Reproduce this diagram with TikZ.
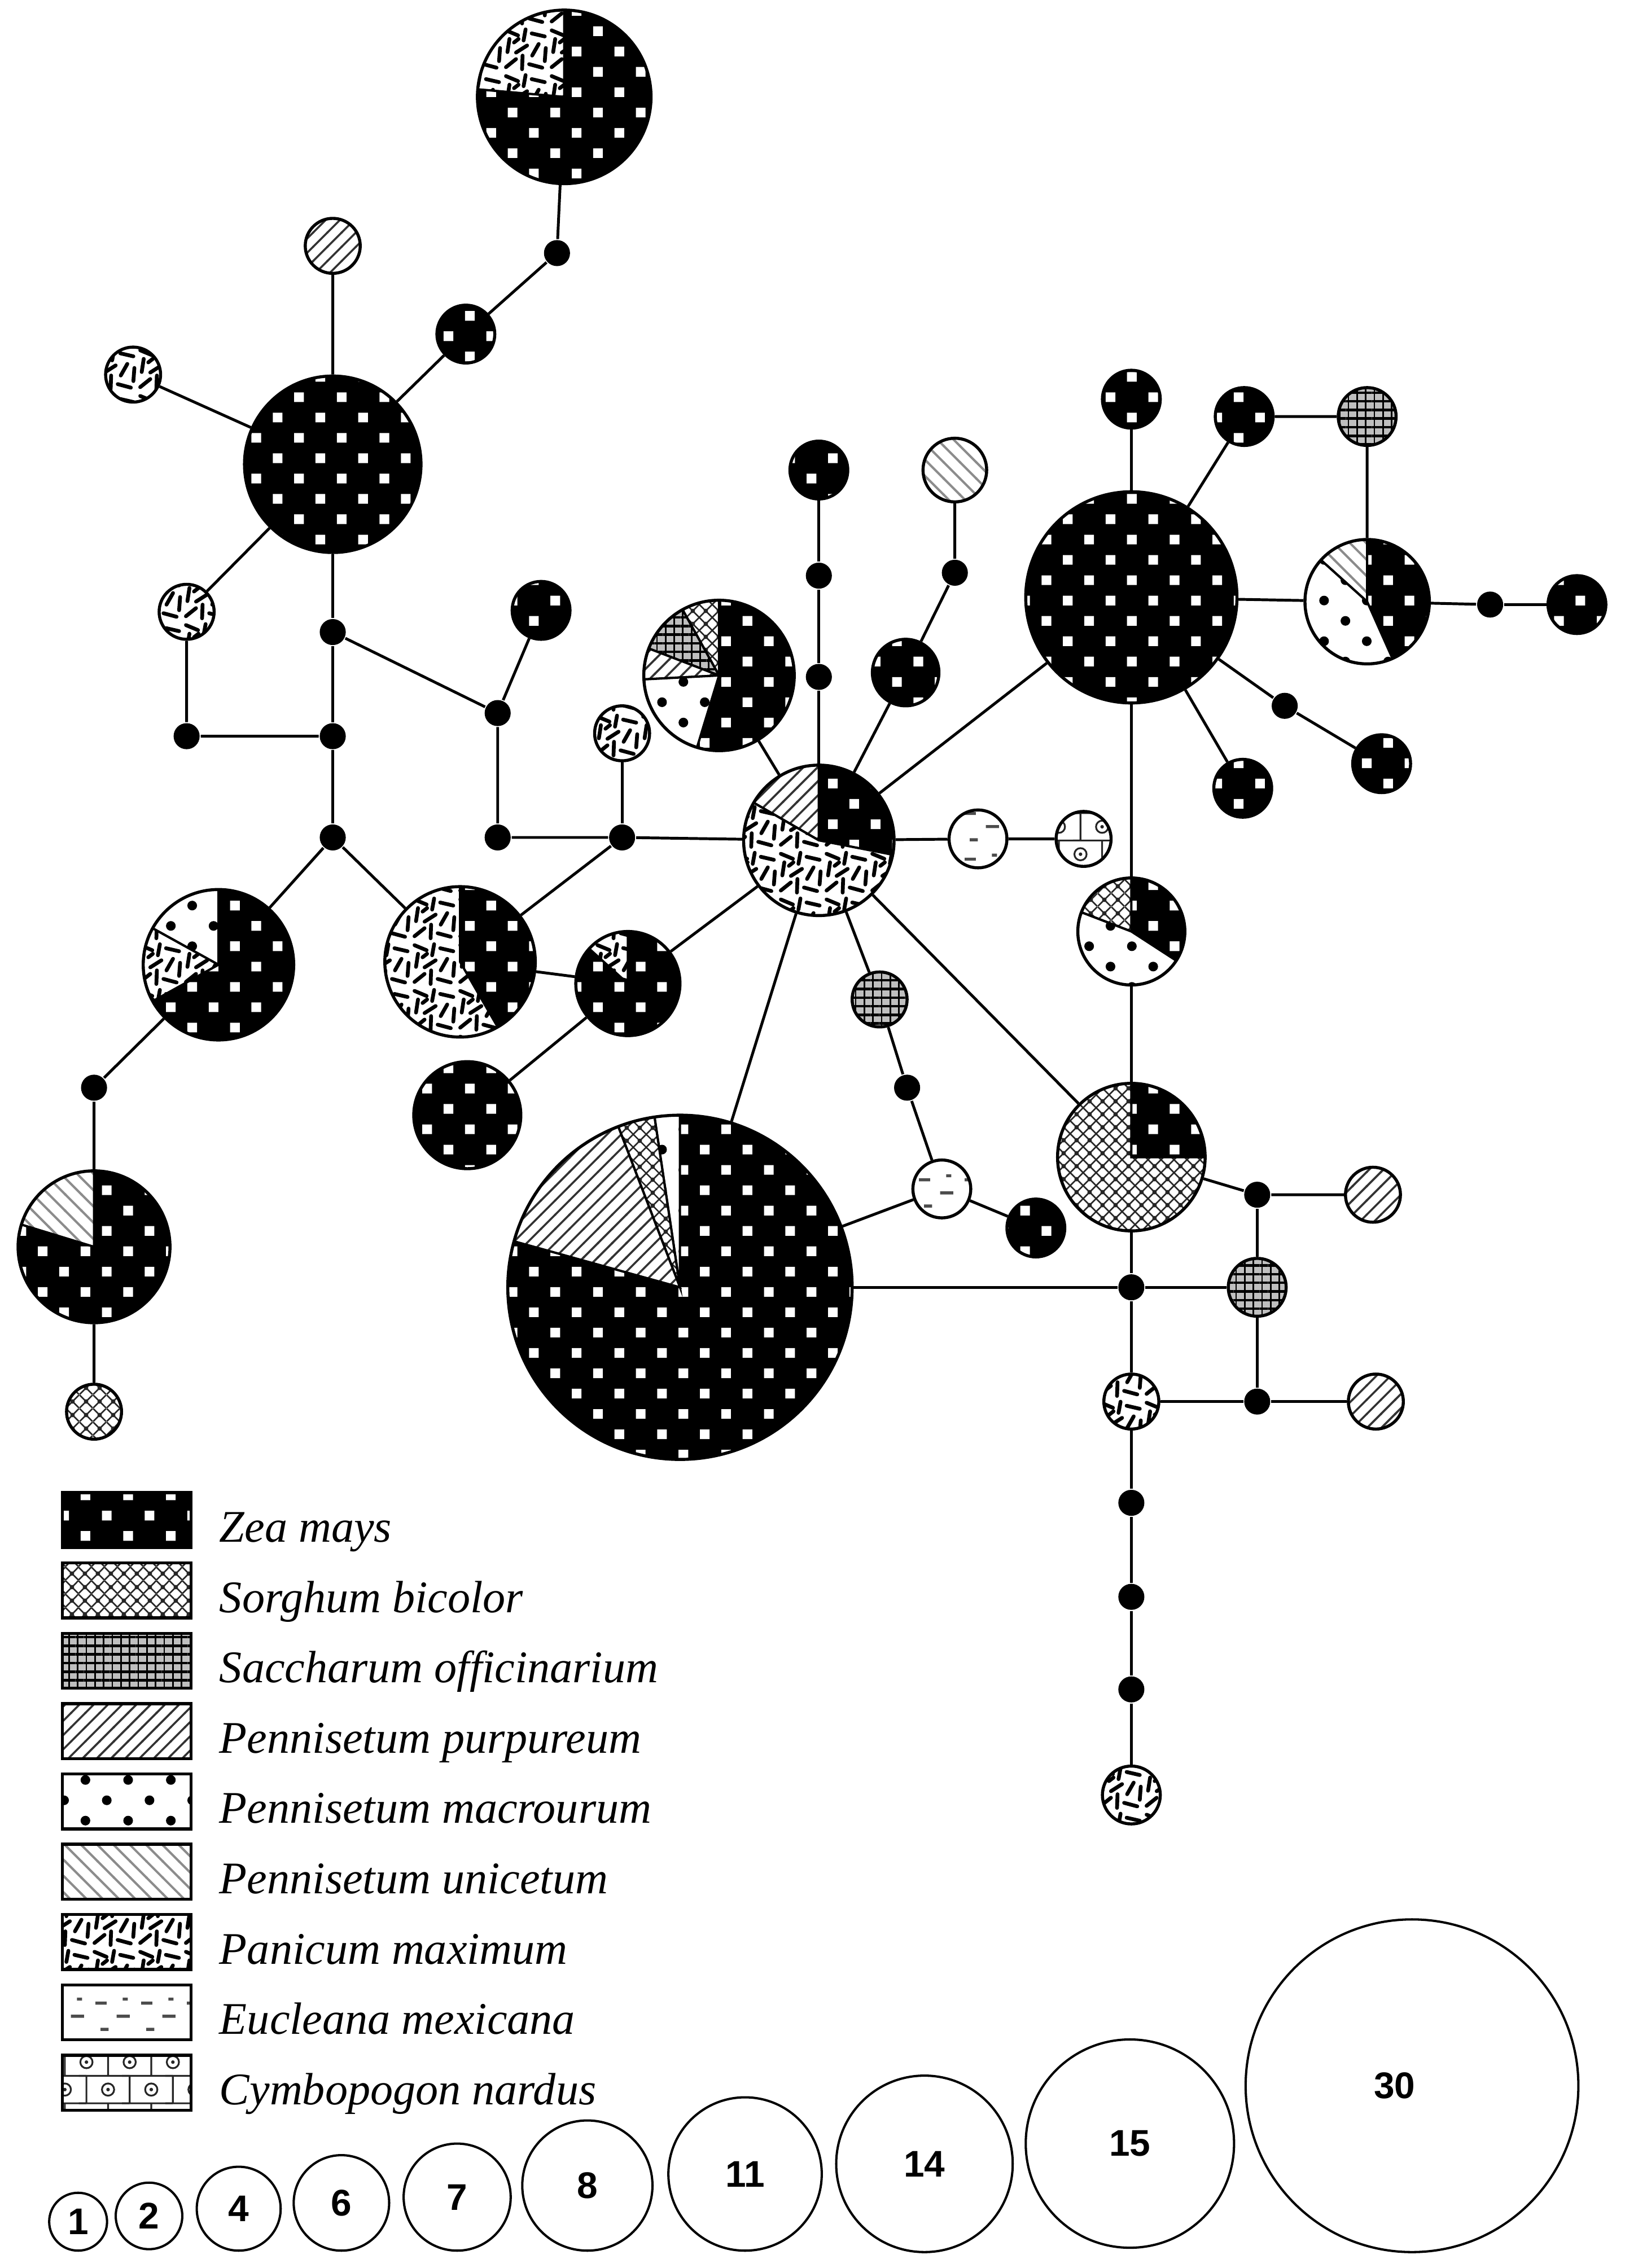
\documentclass[tikz,border=0pt]{standalone}
\usepackage{fontspec}
\setmainfont{Liberation Serif}
\newfontfamily\numfont{Liberation Sans}
\usetikzlibrary{patterns, positioning}

\pgfdeclarepatternformonly{zeadots}{\pgfqpoint{-1.2pt}{-1.2pt}}{\pgfqpoint{7.2pt}{6.8pt}}{\pgfqpoint{8.4pt}{8pt}}{%
  \pgfpathrectangle{\pgfqpoint{-0.95pt}{-0.95pt}}{\pgfqpoint{1.9pt}{1.9pt}}%
  \pgfpathrectangle{\pgfqpoint{3.25pt}{3.05pt}}{\pgfqpoint{1.9pt}{1.9pt}}%
  \pgfusepath{fill}}
\pgfdeclarepatternformonly{macrodots}{\pgfqpoint{-1pt}{-1pt}}{\pgfqpoint{7.4pt}{7pt}}{\pgfqpoint{8.4pt}{8pt}}{%
  \pgfpathcircle{\pgfqpoint{0pt}{0pt}}{0.95pt}%
  \pgfpathcircle{\pgfqpoint{4.2pt}{4pt}}{0.95pt}%
  \pgfusepath{fill}}
\pgfdeclarepatternformonly{sorgnet}{\pgfqpoint{0pt}{0pt}}{\pgfqpoint{2.6pt}{2.6pt}}{\pgfqpoint{2.6pt}{2.6pt}}{%
  \pgfsetlinewidth{0.3pt}%
  \pgfpathmoveto{\pgfqpoint{0pt}{0pt}}\pgfpathlineto{\pgfqpoint{2.6pt}{2.6pt}}%
  \pgfpathmoveto{\pgfqpoint{0pt}{2.6pt}}\pgfpathlineto{\pgfqpoint{2.6pt}{0pt}}%
  \pgfusepath{stroke}%
  \pgfpathcircle{\pgfqpoint{1.3pt}{1.3pt}}{0.45pt}\pgfusepath{fill}}
\pgfdeclarepatternformonly{sacgrid}{\pgfqpoint{-0.5pt}{-0.5pt}}{\pgfqpoint{1.2pt}{1.2pt}}{\pgfqpoint{1.7pt}{1.7pt}}{%
  \pgfsetlinewidth{0.5pt}%
  \pgfpathmoveto{\pgfqpoint{-0.5pt}{0pt}}\pgfpathlineto{\pgfqpoint{1.2pt}{0pt}}\pgfusepath{stroke}%
  \pgfsetlinewidth{0.3pt}%
  \pgfpathmoveto{\pgfqpoint{0pt}{-0.5pt}}\pgfpathlineto{\pgfqpoint{0pt}{1.2pt}}\pgfusepath{stroke}}
\pgfdeclarepatternformonly{purplines}{\pgfqpoint{-1pt}{-1pt}}{\pgfqpoint{3.8pt}{3.8pt}}{\pgfqpoint{2.8pt}{2.8pt}}{%
  \pgfsetlinewidth{0.4pt}%
  \pgfpathmoveto{\pgfqpoint{-0.1pt}{-0.1pt}}\pgfpathlineto{\pgfqpoint{2.9pt}{2.9pt}}%
  \pgfusepath{stroke}}
\pgfdeclarepatternformonly{unilines}{\pgfqpoint{-1pt}{-1pt}}{\pgfqpoint{4.2pt}{4.2pt}}{\pgfqpoint{3.2pt}{3.2pt}}{%
  \pgfsetlinewidth{0.45pt}%
  \pgfpathmoveto{\pgfqpoint{-0.1pt}{3.3pt}}\pgfpathlineto{\pgfqpoint{3.3pt}{-0.1pt}}%
  \pgfusepath{stroke}}
\pgfdeclarepatternformonly{panidash}{\pgfqpoint{0pt}{0pt}}{\pgfqpoint{9pt}{9pt}}{\pgfqpoint{9pt}{9pt}}{%
  \pgfsetlinewidth{0.75pt}\pgfsetroundcap
  \pgfpathmoveto{\pgfqpoint{0.6pt}{1.0pt}}\pgfpathlineto{\pgfqpoint{2.6pt}{2.6pt}}%
  \pgfpathmoveto{\pgfqpoint{3.8pt}{0.6pt}}\pgfpathlineto{\pgfqpoint{3.9pt}{3.3pt}}%
  \pgfpathmoveto{\pgfqpoint{5.2pt}{1.6pt}}\pgfpathlineto{\pgfqpoint{7.8pt}{0.9pt}}%
  \pgfpathmoveto{\pgfqpoint{8.3pt}{2.2pt}}\pgfpathlineto{\pgfqpoint{8.5pt}{4.8pt}}%
  \pgfpathmoveto{\pgfqpoint{0.9pt}{4.0pt}}\pgfpathlineto{\pgfqpoint{1.3pt}{6.6pt}}%
  \pgfpathmoveto{\pgfqpoint{2.6pt}{3.9pt}}\pgfpathlineto{\pgfqpoint{4.8pt}{5.3pt}}%
  \pgfpathmoveto{\pgfqpoint{5.8pt}{3.3pt}}\pgfpathlineto{\pgfqpoint{7.1pt}{5.6pt}}%
  \pgfpathmoveto{\pgfqpoint{0.6pt}{8.3pt}}\pgfpathlineto{\pgfqpoint{3.0pt}{7.3pt}}%
  \pgfpathmoveto{\pgfqpoint{4.1pt}{6.3pt}}\pgfpathlineto{\pgfqpoint{4.5pt}{8.5pt}}%
  \pgfpathmoveto{\pgfqpoint{5.7pt}{7.7pt}}\pgfpathlineto{\pgfqpoint{8.3pt}{7.1pt}}%
  \pgfpathmoveto{\pgfqpoint{2.2pt}{5.9pt}}\pgfpathlineto{\pgfqpoint{3.1pt}{6.6pt}}%
  \pgfusepath{stroke}}
\pgfdeclarepatternformonly{eucldash}{\pgfqpoint{0pt}{0pt}}{\pgfqpoint{9pt}{9pt}}{\pgfqpoint{9pt}{9pt}}{%
  \pgfsetlinewidth{0.6pt}%
  \pgfpathmoveto{\pgfqpoint{0.8pt}{7.2pt}}\pgfpathlineto{\pgfqpoint{3.0pt}{7.2pt}}%
  \pgfpathmoveto{\pgfqpoint{5.0pt}{4.6pt}}\pgfpathlineto{\pgfqpoint{7.6pt}{4.6pt}}%
  \pgfpathmoveto{\pgfqpoint{1.8pt}{2.0pt}}\pgfpathlineto{\pgfqpoint{3.4pt}{2.0pt}}%
  \pgfpathmoveto{\pgfqpoint{6.2pt}{8.0pt}}\pgfpathlineto{\pgfqpoint{7.2pt}{8.0pt}}%
  \pgfusepath{stroke}}
\pgfdeclarepatternformonly{cymbgrid}{\pgfqpoint{-1.5pt}{-0.3pt}}{\pgfqpoint{8.5pt}{10.8pt}}{\pgfqpoint{8.5pt}{10.8pt}}{%
  \pgfsetlinewidth{0.35pt}%
  \pgfpathmoveto{\pgfqpoint{-1.5pt}{0pt}}\pgfpathlineto{\pgfqpoint{8.5pt}{0pt}}%
  \pgfpathmoveto{\pgfqpoint{-1.5pt}{5.4pt}}\pgfpathlineto{\pgfqpoint{8.5pt}{5.4pt}}%
  \pgfpathmoveto{\pgfqpoint{0pt}{0pt}}\pgfpathlineto{\pgfqpoint{0pt}{5.4pt}}%
  \pgfpathmoveto{\pgfqpoint{4.25pt}{5.4pt}}\pgfpathlineto{\pgfqpoint{4.25pt}{10.8pt}}%
  \pgfpathcircle{\pgfqpoint{4.25pt}{2.7pt}}{1.2pt}%
  \pgfpathcircle{\pgfqpoint{0pt}{8.1pt}}{1.2pt}%
  \pgfusepath{stroke}%
  \pgfpathcircle{\pgfqpoint{4.25pt}{2.7pt}}{0.35pt}%
  \pgfpathcircle{\pgfqpoint{0pt}{8.1pt}}{0.35pt}%
  \pgfusepath{fill}}

% one wedge of a pie, clipped by the node it sits in
\newcommand{\slc}[3]{\fill[#3, slicedge] (path picture bounding box.center) -- ++(#1:2cm) arc[start angle=#1, end angle=#2, radius=2cm] -- cycle;}

\begin{document}
\begin{tikzpicture}[
    hap/.style={circle, draw, line width=0.6pt, inner sep=0pt, minimum size=#1},
    med/.style={circle, fill=black, inner sep=0pt, minimum size=0.18cm},
    branch/.style={line width=0.55pt},
    slicedge/.style={draw, line width=0.45pt},
    zea/.style={preaction={fill=black}, pattern=zeadots, pattern color=white},
    sorg/.style={preaction={fill=white}, pattern=sorgnet, pattern color=black!85},
    sacc/.style={preaction={fill=black!25}, pattern=sacgrid, pattern color=black},
    purp/.style={preaction={fill=white}, pattern=purplines, pattern color=black!80},
    macr/.style={preaction={fill=white}, pattern=macrodots, pattern color=black},
    unic/.style={preaction={fill=white}, pattern=unilines, pattern color=black!45},
    pani/.style={preaction={fill=white}, pattern=panidash, pattern color=black},
    eucl/.style={preaction={fill=white}, pattern=eucldash, pattern color=black!70},
    cymb/.style={preaction={fill=white}, pattern=cymbgrid, pattern color=black!85},
    legbox/.style={draw, line width=0.6pt, minimum width=0.89cm, minimum height=0.38cm, inner sep=0pt},
    legtext/.style={font=\itshape\fontsize{8.9pt}{11pt}\selectfont, inner sep=0pt},
    sizec/.style={circle, draw, line width=0.45pt, inner sep=0pt, minimum size=#1, font=\numfont\bfseries\fontsize{7.3pt}{8pt}\selectfont},
    numlbl/.style={font=\numfont\bfseries\fontsize{7.3pt}{8pt}\selectfont, inner sep=0pt}
]
    \useasboundingbox (0,0) rectangle (11.23,15.68);

    % haplotypes and median vectors
    \node[hap=1.20cm, zea, path picture={\slc{90}{175}{pani}}] (h1) at (3.90,15.01) {};
    \node[med] (m1) at (3.85,13.93) {};
    \node[hap=0.40cm, zea] (h2) at (3.22,13.37) {};
    \node[hap=1.22cm, zea] (h3) at (2.30,12.47) {};
    \node[hap=0.38cm, purp] (h4) at (2.30,13.98) {};
    \node[hap=0.38cm, pani] (h5) at (0.92,13.09) {};
    \node[hap=0.38cm, pani] (h6) at (1.29,11.45) {};
    \node[med] (m2) at (2.30,11.31) {};
    \node[med] (m3) at (2.30,10.59) {};
    \node[med] (m4) at (1.29,10.59) {};
    \node[med] (m5) at (2.30,9.89) {};
    \node[hap=0.40cm, zea] (h7) at (3.74,11.46) {};
    \node[med] (m6) at (3.44,10.75) {};
    \node[med] (m7) at (3.44,9.89) {};
    \node[med] (m8) at (4.30,9.89) {};
    \node[hap=0.38cm, pani] (h8) at (4.30,10.61) {};
    \node[hap=1.04cm, zea, path picture={\slc{90}{151}{macr}\slc{151}{209}{pani}}] (h9) at (1.51,9.01) {};
    \node[hap=1.04cm, zea, path picture={\slc{90}{300}{pani}}] (h10) at (3.18,9.03) {};
    \node[hap=0.72cm, zea, path picture={\slc{90}{138}{pani}}] (h11) at (4.34,8.88) {};
    \node[hap=0.74cm, zea] (h12) at (3.23,7.97) {};
    \node[med] (m9) at (0.65,8.16) {};
    \node[hap=1.05cm, zea, path picture={\slc{90}{163}{unic}}] (h13) at (0.65,7.06) {};
    \node[hap=0.38cm, sorg] (h14) at (0.65,5.92) {};
    \node[hap=2.38cm, zea, path picture={\slc{90}{98.5}{macr}\slc{98.5}{111}{sorg}\slc{111}{164.5}{purp}}] (h15) at (4.70,6.78) {};
    \node[hap=1.04cm, zea, path picture={\slc{90}{150}{purp}\slc{150}{349}{pani}}] (h16) at (5.66,9.87) {};
    \node[hap=1.04cm, zea, path picture={\slc{90}{119}{sorg}\slc{119}{159}{sacc}\slc{159}{183}{purp}\slc{183}{253}{macr}}] (h17) at (4.97,11.01) {};
    \node[med] (m10) at (5.66,11.00) {};
    \node[med] (m11) at (5.66,11.70) {};
    \node[hap=0.40cm, zea] (h18) at (5.66,12.43) {};
    \node[hap=0.46cm, zea] (h19) at (6.26,11.03) {};
    \node[med] (m12) at (6.60,11.72) {};
    \node[hap=0.44cm, unic] (h20) at (6.60,12.43) {};
    \node[hap=0.40cm, eucl] (h21) at (6.76,9.88) {};
    \node[hap=0.38cm, cymb] (h22) at (7.49,9.88) {};
    \node[hap=0.38cm, sacc] (h23) at (6.08,8.77) {};
    \node[med] (m13) at (6.27,8.16) {};
    \node[hap=0.40cm, eucl] (h24) at (6.51,7.46) {};
    \node[hap=0.40cm, zea] (h25) at (7.16,7.19) {};
    \node[hap=1.46cm, zea] (h26) at (7.82,11.55) {};
    \node[hap=0.40cm, zea] (h27) at (7.82,12.92) {};
    \node[hap=0.40cm, zea] (h28) at (8.60,12.80) {};
    \node[hap=0.40cm, sacc] (h29) at (9.45,12.80) {};
    \node[hap=0.86cm, zea, path picture={\slc{90}{138}{unic}\slc{138}{294}{macr}}] (h30) at (9.45,11.52) {};
    \node[med] (m14) at (10.30,11.50) {};
    \node[hap=0.40cm, zea] (h31) at (10.90,11.50) {};
    \node[med] (m15) at (8.88,10.80) {};
    \node[hap=0.40cm, zea] (h32) at (9.55,10.40) {};
    \node[hap=0.40cm, zea] (h33) at (8.59,10.23) {};
    \node[hap=0.74cm, zea, path picture={\slc{90}{159}{sorg}\slc{159}{327}{macr}}] (h34) at (7.82,9.24) {};
    \node[hap=1.02cm, zea, path picture={\slc{90}{360}{sorg}}] (h35) at (7.82,7.68) {};
    \node[med] (m16) at (8.69,7.42) {};
    \node[hap=0.38cm, purp] (h36) at (9.49,7.42) {};
    \node[med] (m17) at (7.82,6.78) {};
    \node[hap=0.40cm, sacc] (h37) at (8.69,6.78) {};
    \node[med] (m18) at (8.69,5.99) {};
    \node[hap=0.38cm, purp] (h38) at (9.51,5.99) {};
    \node[hap=0.38cm, pani] (h39) at (7.82,5.99) {};
    \node[med] (m19) at (7.82,5.29) {};
    \node[med] (m20) at (7.82,4.64) {};
    \node[med] (m21) at (7.82,4.00) {};
    \node[hap=0.40cm, pani] (h40) at (7.82,3.27) {};

    % mutational steps
    \draw[branch] (h1) -- (m1) -- (h2) -- (h3) -- (h4);
    \draw[branch] (h3) -- (h5);
    \draw[branch] (h3) -- (h6) -- (m4) -- (m3);
    \draw[branch] (h3) -- (m2) -- (m3) -- (m5);
    \draw[branch] (m2) -- (m6) -- (h7);
    \draw[branch] (m6) -- (m7) -- (m8) -- (h16);
    \draw[branch] (m8) -- (h8);
    \draw[branch] (m5) -- (h9) -- (m9) -- (h13) -- (h14);
    \draw[branch] (m5) -- (h10) -- (h11) -- (h16);
    \draw[branch] (m8) -- (h10);
    \draw[branch] (h12) -- (h11);
    \draw[branch] (h16) -- (h17);
    \draw[branch] (h16) -- (m10) -- (m11) -- (h18);
    \draw[branch] (h16) -- (h19) -- (m12) -- (h20);
    \draw[branch] (h16) -- (h21) -- (h22);
    \draw[branch] (h16) -- (h23) -- (m13) -- (h24) -- (h25);
    \draw[branch] (h16) -- (h26);
    \draw[branch] (h16) -- (h15);
    \draw[branch] (h16) -- (h35);
    \draw[branch] (h15) -- (h24);
    \draw[branch] (h15) -- (m17) -- (h37);
    \draw[branch] (h26) -- (h27);
    \draw[branch] (h26) -- (h28) -- (h29) -- (h30) -- (m14) -- (h31);
    \draw[branch] (h26) -- (h30);
    \draw[branch] (h26) -- (m15) -- (h32);
    \draw[branch] (h26) -- (h33);
    \draw[branch] (h26) -- (h34) -- (h35) -- (m17) -- (h39) -- (m19) -- (m20) -- (m21) -- (h40);
    \draw[branch] (h35) -- (m16) -- (h36);
    \draw[branch] (m16) -- (h37) -- (m18) -- (h38);
    \draw[branch] (m18) -- (h39);

    % legend
    \node[legbox, zea] (l1) at (0.875,5.17) {};
    \node[legbox, sorg, below=0.085cm of l1] (l2) {};
    \node[legbox, sacc, below=0.085cm of l2] (l3) {};
    \node[legbox, purp, below=0.085cm of l3] (l4) {};
    \node[legbox, macr, below=0.085cm of l4] (l5) {};
    \node[legbox, unic, below=0.085cm of l5] (l6) {};
    \node[legbox, pani, below=0.085cm of l6] (l7) {};
    \node[legbox, eucl, below=0.085cm of l7] (l8) {};
    \node[legbox, cymb, below=0.085cm of l8] (l9) {};
    \node[legtext, right=0.18cm of l1.south east, anchor=base west, yshift=0.05cm] (t1) {Zea mays};
    \node[legtext, right=0.18cm of l2.south east, anchor=base west, yshift=0.05cm] (t2) {Sorghum bicolor};
    \node[legtext, right=0.18cm of l3.south east, anchor=base west, yshift=0.05cm] (t3) {Saccharum officinarium};
    \node[legtext, right=0.18cm of l4.south east, anchor=base west, yshift=0.05cm] (t4) {Pennisetum purpureum};
    \node[legtext, right=0.18cm of l5.south east, anchor=base west, yshift=0.05cm] (t5) {Pennisetum macrourum};
    \node[legtext, right=0.18cm of l6.south east, anchor=base west, yshift=0.05cm] (t6) {Pennisetum unicetum};
    \node[legtext, right=0.18cm of l7.south east, anchor=base west, yshift=0.05cm] (t7) {Panicum maximum};
    \node[legtext, right=0.18cm of l8.south east, anchor=base west, yshift=0.05cm] (t8) {Eucleana mexicana};
    \node[legtext, right=0.18cm of l9.south east, anchor=base west, yshift=0.05cm] (t9) {Cymbopogon nardus};

    % circle sizes
    \node[sizec=0.40cm] (s1) at (0.54,0.32) {1};
    \node[sizec=0.46cm] (s2) at (1.03,0.36) {2};
    \node[sizec=0.58cm] (s4) at (1.65,0.41) {4};
    \node[sizec=0.66cm] (s6) at (2.36,0.45) {6};
    \node[sizec=0.74cm] (s7) at (3.16,0.49) {7};
    \node[sizec=0.90cm] (s8) at (4.06,0.57) {8};
    \node[sizec=1.06cm] (s11) at (5.15,0.65) {11};
    \node[sizec=1.22cm] (s14) at (6.39,0.72) {14};
    \node[sizec=1.44cm] (s15) at (7.81,0.86) {15};
    \node[sizec=2.30cm, label={[numlbl, xshift=-0.12cm]center:30}] (s30) at (9.76,1.26) {};
\end{tikzpicture}
\end{document}
